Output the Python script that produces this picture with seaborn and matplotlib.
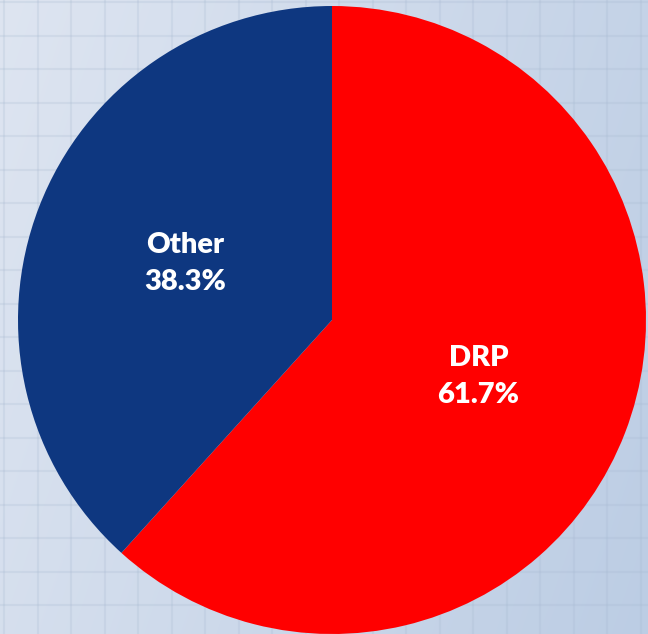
import numpy as np
import matplotlib
matplotlib.use('Agg')
import matplotlib.pyplot as plt
import seaborn as sns

# data
categories = ['DRP', 'Other']
shares = [61.7, 38.3]
slice_colors = ['#FF0000', '#0E3780']

sns.set_theme(style='white')
plt.rcParams['font.family'] = ['Lato', 'DejaVu Sans']

W, H = 648, 634
fig = plt.figure(figsize=(W / 100, H / 100), dpi=100)

# background: light blue gradient with faint grid
bg = fig.add_axes([0, 0, 1, 1])
xx, yy = np.meshgrid(np.linspace(0, 1, W), np.linspace(0, 1, H))
t = np.clip(0.75 * xx + 0.25 * yy, 0, 1)
c0 = np.array([0xDE, 0xE5, 0xF1]) / 255
c1 = np.array([0xBC, 0xCD, 0xE4]) / 255
img = c0[None, None, :] * (1 - t[..., None]) + c1[None, None, :] * t[..., None]
bg.imshow(img, extent=[0, W, H, 0], aspect='auto')
for gx in np.arange(4, W, 33.5):
    bg.axvline(gx, color='#A5B7CF', lw=1.5, alpha=0.22)
for gy in np.arange(2, H, 33.5):
    bg.axhline(gy, color='#A5B7CF', lw=1.5, alpha=0.22)
bg.set_xlim(0, W)
bg.set_ylim(H, 0)
bg.axis('off')

# pie
cx, cy, r = 332, 320, 314
ax = fig.add_axes([(cx - r) / W, (H - cy - r) / H, 2 * r / W, 2 * r / H])
ax.patch.set_alpha(0)
labels = [f'{c}\n{v:.1f}%' for c, v in zip(categories, shares)]
wedges, texts = ax.pie(shares, colors=slice_colors, startangle=90, counterclock=False,
                       labels=labels, labeldistance=0.5, radius=1,
                       wedgeprops=dict(linewidth=0))
for tx in texts:
    tx.set_color('white')
    tx.set_fontweight('heavy')
    tx.set_fontsize(21)
    tx.set_ha('center')
    tx.set_va('center')
    tx.set_linespacing(1.55)
ax.set_xlim(-1, 1)
ax.set_ylim(-1, 1)
ax.set_aspect('equal')
ax.axis('off')

fig.savefig('out.png', dpi=100)
